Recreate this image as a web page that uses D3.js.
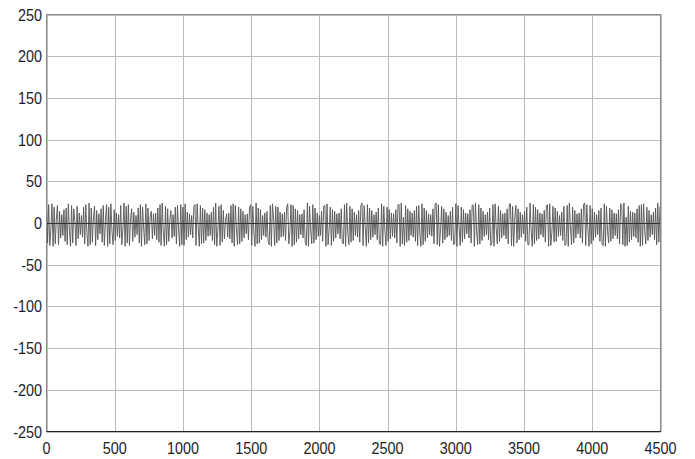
<!DOCTYPE html>
<html>
<head>
<meta charset="utf-8">
<script src="https://cdn.jsdelivr.net/npm/d3@7"></script>
<style>
  body { margin: 0; background: #fff; }
  svg { display: block; }
  text { font-family: "Liberation Sans", Arial, sans-serif; font-size: 16px; fill: #1e1e1e; }
</style>
</head>
<body>
<svg id="chart"></svg>
<script>
// axis ticks
const xTicks = [0, 500, 1000, 1500, 2000, 2500, 3000, 3500, 4000, 4500];
const yTicks = [250, 200, 150, 100, 50, 0, -50, -100, -150, -200, -250];

// signal, one sample every 8 units from 0 to about 4500
const sampleStep = 8;
const signal = [
  20,-24,22,-27,-8,23,-28,19,-25,4,21,-26,14,-18,10,-15,16,
  -22,18,-26,23,-9,-28,21,-24,17,2,-27,20,-19,12,-14,9,-17,
  19,-25,22,-12,-28,24,-26,18,-23,6,20,-27,15,-20,11,-13,17,
  -23,21,-27,3,22,-28,19,-25,23,-10,-26,16,-21,12,-16,10,-18,
  21,-26,-7,24,-28,20,-24,22,-27,5,17,-22,13,-17,9,-14,18,
  -24,22,-28,19,-6,-26,23,-25,18,-21,8,14,-19,11,-15,12,-20,
  18,-23,22,-27,24,-11,-28,20,-26,17,-22,4,15,-18,10,-16,19,
  -25,21,-8,-28,22,-26,19,-27,23,-20,13,-17,11,-14,9,-18,20,
  22,-27,23,-5,-28,21,-25,18,-24,16,-21,12,-16,10,-15,13,-21,
  19,-26,24,-28,-9,20,-27,22,-23,15,-19,3,11,-17,12,-19,21,
  -24,23,-28,21,-7,-26,19,-25,17,-22,14,-18,10,-13,11,-20,18,
  22,-27,20,-12,-28,24,-25,18,-24,16,-20,9,-15,12,-17,14,-22,
  -26,21,-28,23,6,-27,20,-24,19,-21,13,-17,11,-16,13,-21,19,
  23,-25,-10,22,-28,21,-26,17,-23,15,-19,10,-14,11,-18,16,-23,
  -27,24,-28,20,-8,-25,22,-24,18,-20,12,-16,9,-15,14,-22,20,
  21,-28,23,-26,-6,19,-27,16,-22,14,-18,11,-13,12,-19,17,-24,
  -25,22,-28,24,-11,-26,20,-23,17,-21,13,-15,10,-17,15,-23,21,
  24,-27,21,-5,-28,22,-24,18,-20,15,-17,10,-14,13,-20,18,-25,
  -26,23,-28,20,-9,-27,19,-22,16,-19,12,-16,11,-18,16,-24,22,
  22,-28,24,-25,7,-27,21,-23,17,-21,14,-15,12,-17,15,-22,20,
  -27,21,-12,-28,23,-26,18,-22,15,-18,11,-14,10,-16,17,-25,23,
  24,-26,22,-28,-8,20,-24,17,-20,13,-17,9,-15,14,-21,19,-26,
  -25,23,-28,21,-6,-27,19,-23,16,-19,12,-13,11,-18,16,-24,22,
  21,-28,24,-10,-26,22,-25,18,-21,14,-16,10,-14,13,-20,18,-27,
  -24,22,-28,23,-7,-25,20,-22,15,-18,11,-15,12,-19,17,-25,23,
  23,-27,20,-28,5,21,-24,17,-20,13,-17,10,-13,14,-22,19,-26,
  -26,24,-9,-28,22,-25,19,-21,16,-19,12,-14,11,-17,15,-23,21,
  22,-28,23,-27,-11,20,-23,18,-22,14,-16,9,-15,13,-21,20,-27,
  -25,21,-28,24,-6,-26,19,-24,15,-18,11,-13,12,-18,17,-24,22,
  24,-27,22,-8,-28,21,-25,17,-21,13,-17,10,-14,15,-22,18,-26,
  -27,23,-28,20,-10,-24,18,-22,16,-19,12,-15,11,-19,16,-25,23,
  21,-26,24,-28,7,-27,20,-23,14,-20,13,-16,12,-18,17,-23,21,
  -28,22,-27,23,-9,-25,19,-21,15,-17,10,-14,13,-20,18,-26,24,
  -23,20
];

const svgWidth = 695;
const svgHeight = 459;
const svg = d3.select("#chart").attr("width", svgWidth).attr("height", svgHeight);

const plotLeft = 46.5, plotRight = 660.5, plotTop = 14.5, plotBottom = 431.5;

const x = d3.scaleLinear().domain([0, 4500]).range([plotLeft, plotRight]);
const y = d3.scaleLinear().domain([-250, 250]).range([plotBottom, plotTop]);

// grid
svg.append("g")
  .selectAll("line")
  .data(xTicks)
  .enter()
  .append("line")
  .attr("x1", d => Math.round(x(d)) + 0.5)
  .attr("x2", d => Math.round(x(d)) + 0.5)
  .attr("y1", plotTop)
  .attr("y2", plotBottom)
  .attr("stroke", "#bdbdbd")
  .attr("stroke-width", 1);

svg.append("g")
  .selectAll("line")
  .data(yTicks)
  .enter()
  .append("line")
  .attr("x1", plotLeft)
  .attr("x2", plotRight)
  .attr("y1", d => Math.round(y(d)) + 0.5)
  .attr("y2", d => Math.round(y(d)) + 0.5)
  .attr("stroke", "#bdbdbd")
  .attr("stroke-width", 1);

// signal
const line = d3.line()
  .x((d, i) => x(i * sampleStep))
  .y(d => y(d));

svg.append("path")
  .datum(signal)
  .attr("d", line)
  .attr("fill", "none")
  .attr("stroke", "#555")
  .attr("stroke-width", 0.9);

// zero line
svg.append("line")
  .attr("x1", plotLeft).attr("x2", plotRight)
  .attr("y1", Math.round(y(0)) + 0.5).attr("y2", Math.round(y(0)) + 0.5)
  .attr("stroke", "#333").attr("stroke-width", 1);

// frame
svg.append("rect")
  .attr("x", plotLeft).attr("y", plotTop)
  .attr("width", plotRight - plotLeft).attr("height", plotBottom - plotTop)
  .attr("fill", "none").attr("stroke", "#8a8a8a");
svg.append("line")
  .attr("x1", plotLeft).attr("x2", plotRight + 0.5)
  .attr("y1", plotBottom).attr("y2", plotBottom)
  .attr("stroke", "#222").attr("stroke-width", 1.2);

// tick labels (slightly condensed, as in the original)
svg.append("g")
  .selectAll("text")
  .data(yTicks)
  .enter()
  .append("text")
  .attr("transform", d => `translate(42,${y(d) + 6}) scale(0.9,1)`)
  .attr("text-anchor", "end")
  .text(d => d);

svg.append("g")
  .selectAll("text")
  .data(xTicks)
  .enter()
  .append("text")
  .attr("transform", d => `translate(${x(d)},453.5) scale(0.9,1)`)
  .attr("text-anchor", "middle")
  .text(d => d);
</script>
</body>
</html>
